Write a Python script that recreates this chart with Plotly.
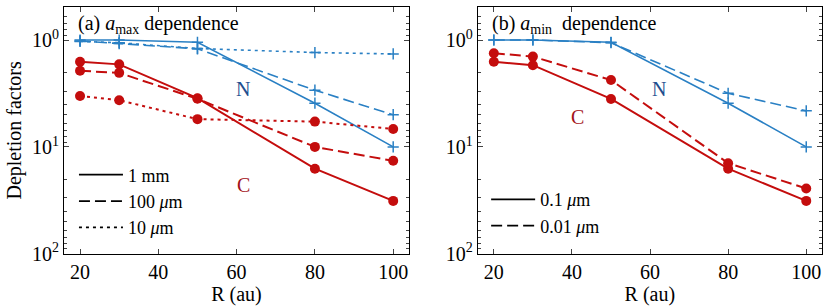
import plotly.graph_objects as go
import numpy as np

R = [20, 30, 50, 80, 100]

# Panel (a): a_max dependence
a_N_1mm = [1.0, 1.0, 1.05, 3.9, 10.0]
a_N_100um = [1.02, 1.08, 1.21, 2.95, 5.0]
a_N_10um = [1.03, 1.06, 1.2, 1.31, 1.35]
a_C_1mm = [1.6, 1.69, 3.5, 16.0, 32.0]
a_C_100um = [1.94, 2.03, 3.55, 10.0, 13.5]
a_C_10um = [3.34, 3.66, 5.5, 5.8, 6.8]

# Panel (b): a_min dependence
b_N_01um = [1.0, 1.0, 1.05, 3.9, 10.0]
b_N_001um = [1.0, 1.0, 1.06, 3.15, 4.6]
b_C_01um = [1.6, 1.72, 3.56, 16.0, 32.0]
b_C_001um = [1.33, 1.43, 2.37, 14.2, 24.5]

legend_a = ["1 mm", "100 <i>μ</i>m", "10 <i>μ</i>m"]
legend_b = ["0.1 <i>μ</i>m", "0.01 <i>μ</i>m"]

BLUE = "#2a80c4"
RED = "#c40d0d"
NBLUE = "#1f4f8f"
CRED = "#a3121a"
FONT = "Times New Roman, Liberation Serif, DejaVu Serif, serif"

dashes = {"solid": "solid", "dash": "11px,5px", "dot": "3px,4px"}

fig = go.Figure()

def add(x, y, color, dash, xa, ya, kind):
    if kind == "N":
        marker = dict(symbol="cross-thin", size=8, line=dict(width=1.5, color=color), color=color)
        lw = 1.6
    else:
        marker = dict(symbol="circle", size=10, color=color)
        lw = 2
    fig.add_trace(go.Scatter(x=x, y=y, mode="lines+markers",
                             line=dict(color=color, width=lw, dash=dashes[dash]),
                             marker=marker, xaxis=xa, yaxis=ya, showlegend=False))

add(R, a_N_1mm, BLUE, "solid", "x", "y", "N")
add(R, a_N_100um, BLUE, "dash", "x", "y", "N")
add(R, a_N_10um, BLUE, "dot", "x", "y", "N")
add(R, a_C_1mm, RED, "solid", "x", "y", "C")
add(R, a_C_100um, RED, "dash", "x", "y", "C")
add(R, a_C_10um, RED, "dot", "x", "y", "C")

add(R, b_N_01um, BLUE, "solid", "x2", "y2", "N")
add(R, b_N_001um, BLUE, "dash", "x2", "y2", "N")
add(R, b_C_01um, RED, "solid", "x2", "y2", "C")
add(R, b_C_001um, RED, "dash", "x2", "y2", "C")

# Legend entries (black line samples)
for name, d in zip(legend_a, ["solid", "dash", "dot"]):
    fig.add_trace(go.Scatter(x=[None], y=[None], mode="lines", name=name,
                             line=dict(color="black", width=1.8, dash=dashes[d]),
                             xaxis="x", yaxis="y", legend="legend"))
for name, d in zip(legend_b, ["solid", "dash"]):
    fig.add_trace(go.Scatter(x=[None], y=[None], mode="lines", name=name,
                             line=dict(color="black", width=1.8, dash=dashes[d]),
                             xaxis="x2", yaxis="y2", legend="legend2"))

minor_vals = [v * 10 ** e for e in (-1, 0, 1) for v in range(2, 10)]

def xaxis(domain, anchor):
    return dict(domain=domain, anchor=anchor, range=[15.9, 104], tickvals=[20, 40, 60, 80, 100],
                ticks="inside", ticklen=5, tickwidth=1, mirror="allticks", showline=True,
                linecolor="black", linewidth=1, showgrid=False, zeroline=False, automargin=False,
                tickfont=dict(size=20, color="black", family=FONT),
                title=dict(text="R (au)", font=dict(size=20, color="black", family=FONT), standoff=2))

def yaxis(domain, anchor, title):
    d = dict(domain=domain, anchor=anchor, type="log", range=[2, -0.308],
             tickvals=[1, 10, 100], ticktext=["10<sup>0</sup>", "10<sup>1</sup>", "10<sup>2</sup>"],
             ticks="inside", ticklen=5, tickwidth=1, mirror="allticks", showline=True,
             linecolor="black", linewidth=1, showgrid=False, zeroline=False, automargin=False,
             tickfont=dict(size=20, color="black", family=FONT),
             minor=dict(tickvals=minor_vals, ticks="inside", ticklen=3, tickwidth=1, showgrid=False))
    if title:
        d["title"] = dict(text=title, font=dict(size=20, color="black", family=FONT), standoff=4)
    return d

fig.update_layout(
    width=831, height=308,
    margin=dict(l=0, r=0, t=0, b=0),
    paper_bgcolor="white", plot_bgcolor="white",
    font=dict(family=FONT, color="black"),
    xaxis=xaxis([0.077, 0.492], "y"),
    yaxis=yaxis([0.176, 0.977], "x", "Depletion factors"),
    xaxis2=xaxis([0.575, 0.989], "y2"),
    yaxis2=yaxis([0.176, 0.977], "x2", None),
    legend=dict(x=0.089, y=0.492, xanchor="left", yanchor="top", bgcolor="rgba(0,0,0,0)",
                font=dict(size=18, family=FONT, color="black"), itemwidth=44, tracegroupgap=0),
    legend2=dict(x=0.585, y=0.412, xanchor="left", yanchor="top", bgcolor="rgba(0,0,0,0)",
                 font=dict(size=18, family=FONT, color="black"), itemwidth=44, tracegroupgap=0),
    annotations=[
        dict(text="(a) <i>a</i><sub>max</sub> dependence", xref="x domain", yref="y domain",
             x=0.035, y=0.99, xanchor="left", yanchor="top", showarrow=False,
             font=dict(size=20, family=FONT, color="black")),
        dict(text="(b) <i>a</i><sub>min</sub>  dependence", xref="x2 domain", yref="y2 domain",
             x=0.035, y=0.99, xanchor="left", yanchor="top", showarrow=False,
             font=dict(size=20, family=FONT, color="black")),
        dict(text="N", xref="x", yref="y", x=61.7, y=np.log10(2.87), showarrow=False,
             font=dict(size=20, family=FONT, color=NBLUE)),
        dict(text="C", xref="x", yref="y", x=61.7, y=np.log10(22.6), showarrow=False,
             font=dict(size=20, family=FONT, color=CRED)),
        dict(text="N", xref="x2", yref="y2", x=62.3, y=np.log10(2.87), showarrow=False,
             font=dict(size=20, family=FONT, color=NBLUE)),
        dict(text="C", xref="x2", yref="y2", x=41.4, y=np.log10(5.25), showarrow=False,
             font=dict(size=20, family=FONT, color=CRED)),
    ],
)

fig.write_html("out.html", config={"displayModeBar": False},
               post_script="document.body.style.margin='0';")
